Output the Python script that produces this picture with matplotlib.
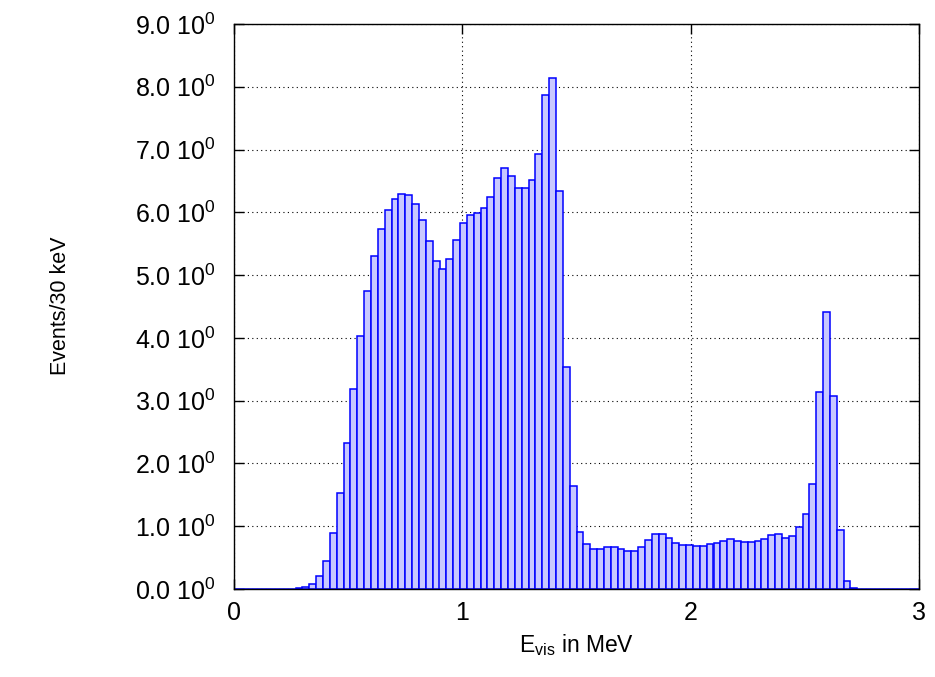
import numpy as np
import matplotlib
matplotlib.use("Agg")
import matplotlib.pyplot as plt

# histogram: 30 keV bins from 0 to 3 MeV, counts
bin_width = 0.03
counts = [
    0, 0, 0, 0, 0, 0, 0, 0, 0, 0.01,              # 0.00 - 0.30
    0.03, 0.075, 0.20, 0.45, 0.89, 1.53, 2.32, 3.19, 4.03, 4.74,
    5.31, 5.73, 6.03, 6.21, 6.29, 6.27, 6.13, 5.88, 5.54, 5.22,
    5.10, 5.25, 5.56, 5.83, 5.96, 5.99, 6.07, 6.25, 6.54, 6.71,
    6.58, 6.38, 6.39, 6.51, 6.93, 7.87, 8.14, 6.34, 3.54, 1.64,
    0.91, 0.71, 0.64, 0.63, 0.67, 0.67, 0.64, 0.61, 0.61, 0.67,
    0.78, 0.87, 0.87, 0.81, 0.74, 0.70, 0.70, 0.68, 0.68, 0.71,
    0.73, 0.77, 0.79, 0.77, 0.75, 0.75, 0.77, 0.80, 0.86, 0.87,
    0.82, 0.85, 0.98, 1.19, 1.68, 3.14, 4.42, 3.07, 0.94, 0.12,
    0.01, 0, 0, 0, 0, 0, 0, 0, 0, 0,
]
bin_left = np.arange(len(counts)) * bin_width

x_ticks = [0, 1, 2, 3]
y_ticks = np.arange(0, 10, 1.0)
y_labels = [r"%.1f 10$^{0}$" % v for v in y_ticks]

plt.rcParams["font.family"] = ["Liberation Sans", "DejaVu Sans"]
plt.rcParams["mathtext.fontset"] = "custom"
plt.rcParams["mathtext.rm"] = "Liberation Sans"
plt.rcParams["mathtext.it"] = "Liberation Sans"

fig = plt.figure(figsize=(9.35, 6.77), dpi=100)
ax = fig.add_axes([234 / 935, 1 - 589 / 677, (919 - 234) / 935, (589 - 24) / 677])

ax.bar(bin_left, counts, width=bin_width, align="edge",
       facecolor="#c8c8ff", edgecolor="#0000ff", linewidth=1.1, zorder=2)

ax.set_xlim(0, 3)
ax.set_ylim(0, 9)
ax.set_xticks(x_ticks)
ax.set_xticklabels([str(t) for t in x_ticks])
ax.set_yticks(y_ticks)
ax.set_yticklabels(y_labels)

ax.grid(True, color="black", linestyle=(0, (1, 3)), linewidth=0.8)
ax.set_axisbelow(True)
ax.tick_params(direction="in", top=True, right=True, length=7, width=1,
               labelsize=18, pad=9)
ax.tick_params(axis="y", pad=13)
for s in ax.spines.values():
    s.set_linewidth(1)

ax.set_xlabel(r"E$_{\mathrm{vis}}$ in MeV", fontsize=16.5, labelpad=5)
fig.text(60 / 935, 1 - 306 / 677, "Events/30 keV", rotation=90,
         fontsize=15.5, ha="center", va="center")

fig.savefig("out.png", dpi=100)
